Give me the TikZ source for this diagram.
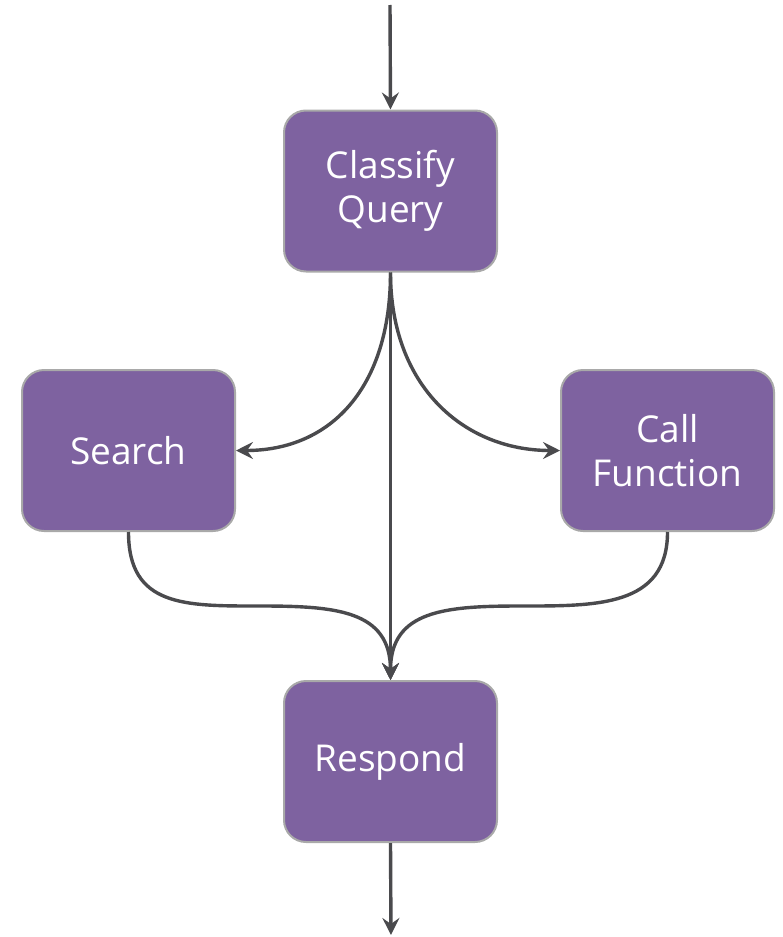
\documentclass[tikz,border=0pt]{standalone}
\usepackage{fontspec}
\setmainfont{Open Sans}
\usetikzlibrary{arrows.meta}
\definecolor{boxfill}{HTML}{7E62A0}
\definecolor{boxline}{HTML}{A9A9A9}
\definecolor{wire}{HTML}{4A4A4D}
\begin{document}
\begin{tikzpicture}[x=1pt,y=-1pt,
  stepbox/.style={draw=boxline, line width=2pt, fill=boxfill, rounded corners=22pt,
    minimum width=213pt, minimum height=161pt, text=white,
    font=\fontsize{37}{44}\selectfont, align=center, inner sep=0pt},
  flow/.style={draw=wire, line width=3.4pt,
    -{Stealth[length=17pt,width=17pt,inset=6pt]}}]
\useasboundingbox (0,0) rectangle (782,937);

% steps
\node[stepbox] (classify) at (390.5,191)   {Classify\\Query};
\node[stepbox] (search)   at (128.5,450.5) {Search};
\node[stepbox] (call)     at (667.5,450.5) {Call\\Function};
\node[stepbox] (respond)  at (390.5,761.5) {Respond};

% free ends and merge points
\coordinate (in)   at (390,5);
\coordinate (out)  at (391,935);
\coordinate (midl) at (260,606);
\coordinate (midr) at (521,606);

% connectors
\draw[flow] (in) -- (classify.north);
\draw[flow] (classify.south) .. controls +(0,115) and +(95,0) .. (search.east);
\draw[flow] (classify.south) .. controls +(0,115) and +(-95,0) .. (call.west);
\draw[flow] (classify.south) -- (respond.north);
\draw[flow] (search.south) .. controls +(0,75) and +(-75,0) .. (midl)
  .. controls +(75,0) and +(0,-70) .. (respond.north);
\draw[flow] (call.south) .. controls +(0,75) and +(75,0) .. (midr)
  .. controls +(-75,0) and +(0,-70) .. (respond.north);
\draw[flow] (respond.south) -- (out);
\end{tikzpicture}
\end{document}
